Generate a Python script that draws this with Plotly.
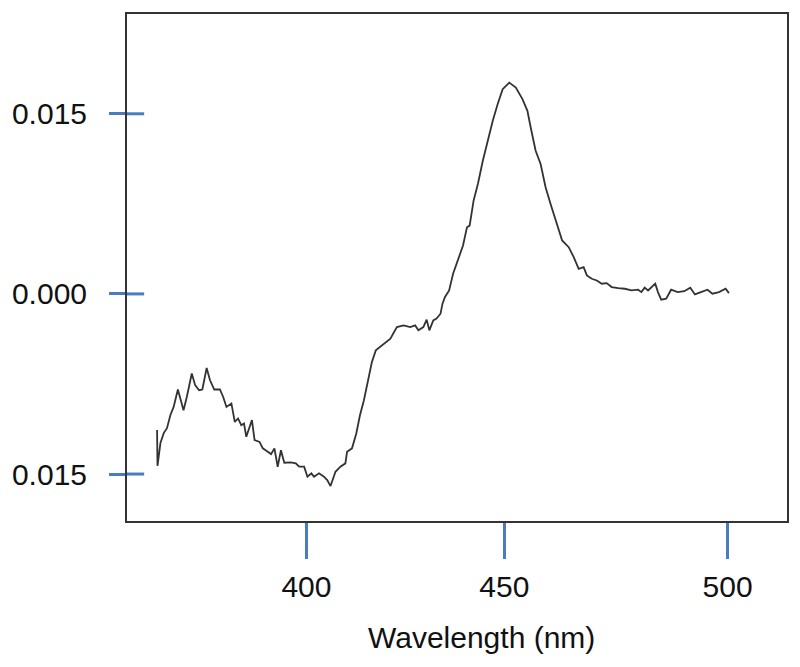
import plotly.graph_objs as go

# spectrum
wavelength = [
    364.54, 364.64, 365.34, 366.12, 366.89, 367.69, 368.47, 369.48, 370.82, 371.60,
    372.78, 373.58, 374.52, 375.29, 376.31, 377.11, 378.12, 379.46, 380.24, 381.01,
    382.19, 382.99, 383.76, 384.54, 385.18, 385.72, 387.06, 387.69, 388.87, 389.65,
    390.82, 391.60, 392.40, 393.18, 393.95, 394.75, 396.31, 397.48, 398.28, 399.46,
    400.24, 401.18, 401.81, 402.99, 404.16, 404.94, 405.72, 406.89, 408.07, 409.25,
    409.65, 410.82, 411.84, 412.71, 413.65, 414.59, 415.53, 416.47, 417.88, 419.93,
    421.48, 423.06, 424.64, 425.81, 426.59, 427.76, 428.54, 429.18, 430.12, 430.89,
    431.84, 432.31, 432.87, 433.88, 434.82, 436.00, 437.18, 438.12, 438.75, 439.69,
    440.71, 441.88, 443.06, 444.24, 445.41, 446.59, 448.16, 449.72, 451.29, 452.47,
    453.25, 454.42, 455.60, 456.78, 457.95, 459.13, 460.71, 462.28, 463.46, 464.64,
    465.81, 466.59, 467.76, 468.94, 470.12, 471.29, 472.47, 474.05, 475.60, 477.18,
    478.75, 479.53, 480.31, 481.11, 481.88, 482.82, 483.46, 484.24, 485.41, 486.59,
    488.16, 489.72, 491.13, 492.24, 493.65, 495.22, 496.40, 497.95, 499.53, 500.31,
]
signal = [
    -0.01134, -0.01431, -0.01242, -0.01159, -0.01118, -0.01010, -0.00941, -0.00796, -0.00968, -0.00858,
    -0.00663, -0.00760, -0.00802, -0.00796, -0.00617, -0.00719, -0.00796, -0.00796, -0.00858, -0.00941,
    -0.00912, -0.01065, -0.01037, -0.01093, -0.01079, -0.01190, -0.01051, -0.01217, -0.01232, -0.01286,
    -0.01315, -0.01334, -0.01286, -0.01439, -0.01301, -0.01406, -0.01403, -0.01411, -0.01439, -0.01439,
    -0.01522, -0.01494, -0.01522, -0.01494, -0.01522, -0.01550, -0.01600, -0.01481, -0.01439, -0.01411,
    -0.01315, -0.01286, -0.01162, -0.01010, -0.00885, -0.00719, -0.00569, -0.00470, -0.00428, -0.00372,
    -0.00276, -0.00262, -0.00276, -0.00262, -0.00303, -0.00276, -0.00214, -0.00303, -0.00220, -0.00206,
    -0.00165, -0.00081, -0.00027, 0.00029, 0.00168, 0.00278, 0.00403, 0.00555, 0.00569, 0.00777,
    0.00916, 0.01109, 0.01276, 0.01442, 0.01581, 0.01705, 0.01760, 0.01719, 0.01622, 0.01525,
    0.01386, 0.01192, 0.01082, 0.00888, 0.00750, 0.00611, 0.00445, 0.00389, 0.00306, 0.00209,
    0.00223, 0.00154, 0.00126, 0.00112, 0.00085, 0.00090, 0.00057, 0.00048, 0.00043, 0.00029,
    0.00035, 0.00015, 0.00052, 0.00029, 0.00057, 0.00085, 0.00015, -0.00048, -0.00040, 0.00035,
    0.00015, 0.00023, 0.00052, -0.00004, 0.00015, 0.00035, 0.00002, 0.00015, 0.00043, 0.00007,
]

# ticks as they sit in the picture (the x ticks are not evenly spaced there)
x_tickvals = [400, 447, 500]
x_ticktext = ['400', '450', '500']
y_tickvals = [0.015, 0.0, -0.015]
y_ticktext = ['0.015', '0.000', '0.015']

tick_blue = '#4a7cc0'
font = dict(family='Liberation Sans, Arial, sans-serif', size=30, color='#111111')

traces = [
    go.Scatter(
        x=wavelength,
        y=signal,
        mode='lines',
        line=dict(color='#333333', width=1.8),
        ),
    ]

# inner half of the y ticks (they cross the frame)
shapes = [
    dict(type='line', xref='paper', yref='y', x0=0, x1=0.026, y0=v, y1=v,
         line=dict(color=tick_blue, width=3))
    for v in y_tickvals
    ]

layout = go.Layout(
    width=792,
    height=659,
    showlegend=False,
    plot_bgcolor='white',
    paper_bgcolor='white',
    margin=dict(l=113, r=13, t=4, b=146),
    font=font,
    xaxis=dict(
        range=[357.4, 514.1],
        tickvals=x_tickvals,
        ticktext=x_ticktext,
        ticks='outside',
        ticklen=36,
        tickwidth=3,
        tickcolor=tick_blue,
        ticklabelstandoff=2,
        showgrid=False,
        zeroline=False,
        showline=True,
        mirror=True,
        linecolor='#333333',
        linewidth=2,
        tickfont=font,
        ),
    yaxis=dict(
        range=[-0.01891, 0.02331],
        tickvals=y_tickvals,
        ticktext=y_ticktext,
        ticks='outside',
        ticklen=16,
        tickwidth=3,
        tickcolor=tick_blue,
        ticklabelstandoff=16,
        showgrid=False,
        zeroline=False,
        showline=True,
        mirror=True,
        linecolor='#333333',
        linewidth=2,
        tickfont=font,
        ),
    annotations=[
        dict(
            text='Wavelength (nm)',
            xref='paper', yref='paper',
            x=0.537, y=-0.230,
            xanchor='center', yanchor='middle',
            showarrow=False,
            font=font,
            ),
        ],
    shapes=shapes,
    )

fig = go.Figure(data=traces, layout=layout)
fig.write_html('out.html')
